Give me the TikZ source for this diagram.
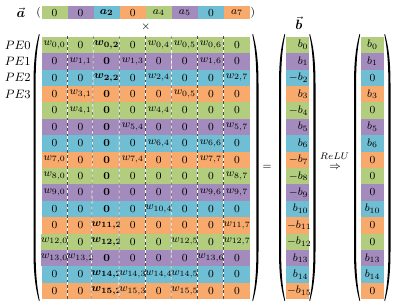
\documentclass[tikz,border=0pt]{standalone}
\usepackage{amsmath}
\usepackage{bm}
\usetikzlibrary{calc, positioning}

\definecolor{rowc0}{RGB}{178,205,126}
\definecolor{rowc1}{RGB}{163,139,190}
\definecolor{rowc2}{RGB}{112,190,211}
\definecolor{rowc3}{RGB}{248,169,108}

\newcommand{\wt}[2]{$w_{#1,#2}$}
\newcommand{\wb}[2]{$\bm{w_{#1,#2}}$}
\newcommand{\zb}{$\mathbf{0}$}
% tall parenthesis, outer ink at x=0, from y=34 to y=301
\newcommand{\tallparen}{%
    \fill (5.5,34) .. controls (1.5,48) and (0,64) .. (0,84) -- (0,251)
        .. controls (0,271) and (1.5,287) .. (5.5,301)
        -- (6.2,300.6) .. controls (3.3,287) and (2.1,271) .. (2.1,251) -- (2.1,84)
        .. controls (2.1,64) and (3.3,48) .. (6.2,34.4) -- cycle;}

\begin{document}
\begin{tikzpicture}[x=0.74pt, y=-0.74pt,
    cell/.style={inner sep=0pt, minimum width=19.28pt, minimum height=12.14pt, font=\footnotesize},
    bcell/.style={inner sep=0pt, minimum width=17.3pt, minimum height=12.14pt, font=\footnotesize},
    sepline/.style={black!70, dash pattern=on 2pt off 2pt, line width=0.35pt}]
    \useasboundingbox (0,0) rectangle (399,306);

    % Input vector
    \node[inner sep=0pt] (a-lbl) at (21,13) {$\vec{\bm{a}}$};
    \foreach \e [count=\c from 0] in {0,0,$\bm{a_2}$,0,$a_4$,$a_5$,0,$a_7$} {
        \pgfmathtruncatemacro{\k}{mod(\c,4)}
        \node[cell, minimum height=10pt, fill=rowc\k] (a-\c) at ({41.5+26.06*(\c+0.5)},12.7) {\e};
    }
    \node[font=\footnotesize, anchor=east, inner sep=0pt] (a-l) at (a-0.west) {$($};
    \node[font=\footnotesize, anchor=west, inner sep=0pt] (a-r) at (a-7.east) {$)$};
    \node[font=\footnotesize, inner sep=0pt] (times) at (145.8,26.5) {$\times$};

    % Weight matrix
    \foreach \row [count=\r from 0] in {
        {\wt{0}{0},0,\wb{0}{2},0,\wt{0}{4},\wt{0}{5},\wt{0}{6},0},
        {0,\wt{1}{1},\zb,\wt{1}{3},0,0,\wt{1}{6},0},
        {0,0,\wb{2}{2},0,\wt{2}{4},0,0,\wt{2}{7}},
        {0,\wt{3}{1},\zb,0,0,\wt{0}{5},0,0},
        {0,\wt{4}{1},\zb,0,\wt{4}{4},0,0,0},
        {0,0,\zb,\wt{5}{4},0,0,0,\wt{5}{7}},
        {0,0,\zb,0,\wt{6}{4},0,\wt{6}{6},0},
        {\wt{7}{0},0,\zb,\wt{7}{4},0,0,\wt{7}{7},0},
        {\wt{8}{0},0,\zb,0,0,0,0,\wt{8}{7}},
        {\wt{9}{0},0,\zb,0,0,0,\wt{9}{6},\wt{9}{7}},
        {0,0,\zb,0,\wt{10}{4},0,0,0},
        {0,0,\wb{11}{2},0,0,0,0,\wt{11}{7}},
        {\wt{12}{0},0,\wb{12}{2},0,0,\wt{12}{5},0,\wt{12}{7}},
        {\wt{13}{0},\wt{13}{2},\zb,0,0,0,\wt{13}{6},0},
        {0,0,\wb{14}{2},\wt{14}{3},\wt{14}{4},\wt{14}{5},0,0},
        {0,0,\wb{15}{2},\wt{15}{3},0,\wt{15}{5},0,0}} {
        \pgfmathtruncatemacro{\k}{mod(\r,4)}
        \foreach \e [count=\c from 0] in \row {
            \node[cell, fill=rowc\k] (w-\r-\c) at ({41.5+26.06*(\c+0.5)},{36.7+16.4*(\r+0.5)}) {\e};
        }
    }
    \foreach \c in {1,...,7} {
        \draw[white, line width=0.45pt] (w-0-\c.north west) -- (w-15-\c.south west);
        \draw[sepline] (w-0-\c.north west) -- (w-15-\c.south west);
    }
    \begin{scope}[xshift=33.5*0.74pt]\tallparen\end{scope}
    \begin{scope}[xshift=258.5*0.74pt, xscale=-1]\tallparen\end{scope}

    % PE labels
    \foreach \p in {0,...,3} {
        \node[anchor=east, inner sep=0pt, font=\small] (pe-\p) at (31,{36.7+16.4*(\p+0.5)}) {$PE\p$};
    }

    % Result vector
    \node[font=\footnotesize, inner sep=0pt] (eq) at (267,167) {$=$};
    \node[inner sep=0pt] (b-lbl) at (299,23) {$\vec{\bm{b}}$};
    \foreach \e [count=\r from 0] in {b_0,b_1,-b_2,b_3,-b_4,b_5,b_6,-b_7,-b_8,-b_9,b_{10},-b_{11},-b_{12},b_{13},b_{14},-b_{15}} {
        \pgfmathtruncatemacro{\k}{mod(\r,4)}
        \node[bcell, fill=rowc\k, text width=15.8pt, align=right, inner xsep=0.7pt] (b-\r) at (297.7,{36.7+16.4*(\r+0.5)}) {$\e$};
    }
    \begin{scope}[xshift=279*0.74pt]\tallparen\end{scope}
    \begin{scope}[xshift=315.5*0.74pt, xscale=-1]\tallparen\end{scope}

    % ReLU
    \node[font=\scriptsize, inner sep=0pt] (relu-lbl) at (334.5,156) {$ReLU$};
    \node[font=\footnotesize, inner sep=0pt] (relu) at (335,167.5) {$\Rightarrow$};
    \foreach \e [count=\r from 0] in {b_0,b_1,0,b_3,0,b_5,b_6,0,0,0,b_{10},0,0,b_{13},b_{14},0} {
        \pgfmathtruncatemacro{\k}{mod(\r,4)}
        \node[bcell, fill=rowc\k] (y-\r) at (372.5,{36.7+16.4*(\r+0.5)}) {$\e$};
    }
    \begin{scope}[xshift=354*0.74pt]\tallparen\end{scope}
    \begin{scope}[xshift=390.5*0.74pt, xscale=-1]\tallparen\end{scope}
\end{tikzpicture}
\end{document}
